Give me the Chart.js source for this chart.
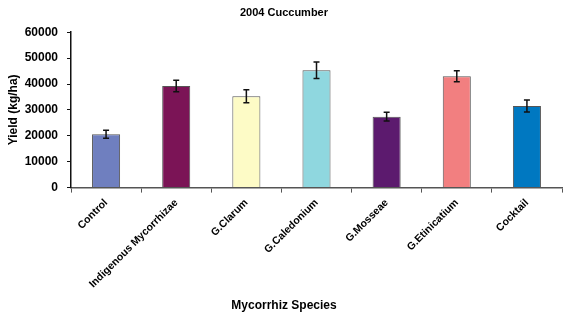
<!DOCTYPE html>
<html>
<head>
<meta charset="utf-8">
<script src="https://cdn.jsdelivr.net/npm/chart.js@4"></script>
<style>
  html, body { margin: 0; padding: 0; background: #fff; }
  #wrap { width: 568px; height: 319px; }
</style>
</head>
<body>
<div id="wrap"><canvas id="c" width="568" height="319"></canvas></div>
<script>
const species = ['Control', 'Indigenous Mycorrhizae', 'G.Clarum', 'G.Caledonium', 'G.Mosseae', 'G.Etinicatium', 'Cocktail'];
const yieldKgHa = [20600, 39200, 35300, 45300, 27400, 43000, 31500];
const errKgHa = [1500, 2200, 2500, 3200, 1700, 2100, 2300];
const barColors = ['#6f7fbf', '#7b1456', '#fdfbc6', '#8fd7df', '#5c1a6e', '#f27f80', '#0078c1'];
const yTicks = [0, 10000, 20000, 30000, 40000, 50000, 60000];

// error bars drawn through the y scale
const errorBars = {
  id: 'errorBars',
  afterDatasetsDraw(chart) {
    const ctx = chart.ctx;
    const y = chart.scales.y;
    const meta = chart.getDatasetMeta(0);
    ctx.save();
    ctx.strokeStyle = '#111';
    ctx.lineWidth = 1.5;
    meta.data.forEach((bar, i) => {
      const top = y.getPixelForValue(yieldKgHa[i] + errKgHa[i]);
      const bot = y.getPixelForValue(yieldKgHa[i] - errKgHa[i]);
      ctx.beginPath();
      ctx.moveTo(bar.x, top); ctx.lineTo(bar.x, bot);
      ctx.moveTo(bar.x - 3, top); ctx.lineTo(bar.x + 3, top);
      ctx.moveTo(bar.x - 3, bot); ctx.lineTo(bar.x + 3, bot);
      ctx.stroke();
    });
    ctx.restore();
  }
};

Chart.defaults.font.family = 'Arial, "Liberation Sans", sans-serif';
Chart.defaults.color = '#000';

new Chart(document.getElementById('c'), {
  type: 'bar',
  data: {
    labels: species,
    datasets: [{
      data: yieldKgHa,
      backgroundColor: barColors,
      borderColor: '#555',
      borderWidth: 1,
      barPercentage: 0.8,
      categoryPercentage: 0.5
    }]
  },
  options: {
    responsive: false,
    animation: false,
    layout: { padding: { left: 6, right: 6, top: 3, bottom: 0 } },
    plugins: {
      legend: { display: false },
      tooltip: { enabled: false },
      title: {
        display: true,
        text: '2004 Cuccumber',
        font: { size: 11, weight: 'bold' },
        padding: { top: 3, bottom: 13 }
      },
      subtitle: {
        display: true,
        position: 'bottom',
        text: 'Mycorrhiz Species',
        font: { size: 12, weight: 'bold' },
        padding: { top: 4, bottom: 6 }
      }
    },
    scales: {
      x: {
        grid: { drawOnChartArea: false, color: '#555', tickLength: 5, offset: true },
        border: { color: '#555', width: 1.5 },
        ticks: {
          minRotation: 45, maxRotation: 45, autoSkip: false,
          font: { size: 10.5, weight: 'bold' }, padding: 4
        },
        afterFit(s) { s.height = 107; }
      },
      y: {
        min: 0, max: 60000,
        afterBuildTicks(s) { s.ticks = yTicks.map(v => ({ value: v })); },
        grid: { drawOnChartArea: false, color: '#111', tickLength: 4 },
        border: { color: '#111', width: 1.5 },
        ticks: { font: { size: 12, weight: 'bold' }, padding: 9, callback: v => String(v) },
        title: {
          display: true, text: 'Yield (kg/ha)',
          font: { size: 12, weight: 'bold' }, padding: { top: 0, bottom: 0 }
        },
        afterFit(s) { s.width = 65; }
      }
    }
  },
  plugins: [errorBars]
});
</script>
</body>
</html>
